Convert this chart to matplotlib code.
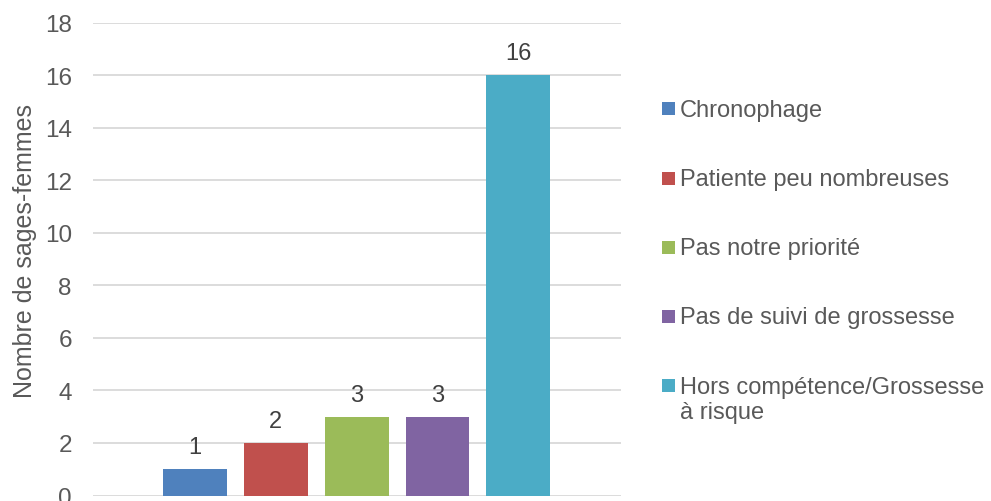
import matplotlib.pyplot as plt
from matplotlib.patches import Rectangle

plt.rcParams['font.family'] = ['Liberation Sans', 'DejaVu Sans']

categories = ["Chronophage", "Patiente peu nombreuses", "Pas notre priorité",
              "Pas de suivi de grossesse", "Hors compétence/Grossesse\nà risque"]
values = [1, 2, 3, 3, 16]
colors = ["#4f81bd", "#c0504d", "#9bbb59", "#8064a2", "#4bacc6"]
yticks = [0, 2, 4, 6, 8, 10, 12, 14, 16, 18]

TXT = "#595959"
W, H = 991, 502

fig = plt.figure(figsize=(W / 100, H / 100), dpi=100)
ax = fig.add_axes([92.7 / W, 5.5 / H, 528 / W, 473 / H])

x = list(range(len(values)))
ax.bar(x, values, width=0.79, color=colors, zorder=3)
for xi, v in zip(x, values):
    ax.annotate(str(v), (xi, v), xytext=(0, 8), textcoords="offset points",
                ha="center", va="bottom", fontsize=17, color="#404040")

ax.set_xlim(-1.267, 5.267)
ax.set_ylim(0, 18)
ax.set_yticks(yticks)
ax.set_xticks([])
ax.grid(axis="y", color="#d9d9d9", linewidth=1.3, zorder=0)
for s in ax.spines.values():
    s.set_visible(False)
ax.tick_params(axis="y", length=0, labelsize=17.5, labelcolor=TXT, pad=15)
ax.set_ylabel("Nombre de sages-femmes", fontsize=18, color=TXT)
ax.yaxis.set_label_coords(-0.106, 0.519)

# legend drawn by hand so the wrapped label keeps its square on the first line
for i, (lab, c) in enumerate(zip(categories, colors)):
    top = 103.3 + i * 69.2
    fig.add_artist(Rectangle((662 / W, 1 - (top + 13) / H), 13 / W, 13 / H,
                             transform=fig.transFigure, facecolor=c,
                             edgecolor="none"))
    fig.text(680 / W, 1 - (top - 3.5) / H, lab, ha="left", va="top",
             fontsize=17, color=TXT, linespacing=1.2)

fig.savefig("out.png", dpi=100)
